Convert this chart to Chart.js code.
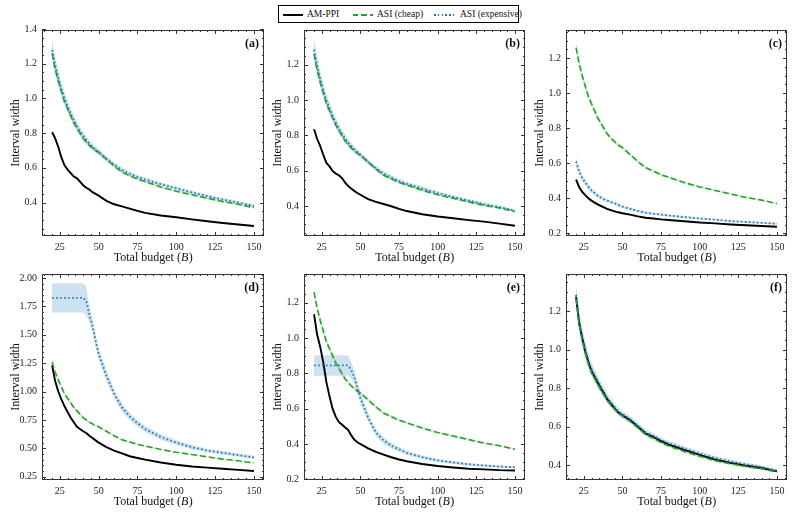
<!DOCTYPE html>
<html>
<head>
<meta charset="utf-8">
<script src="https://cdn.jsdelivr.net/npm/chart.js@4.4.0/dist/chart.umd.min.js"></script>
<style>
    body { margin: 0; background: #fff; width: 798px; height: 516px; position: relative; overflow: hidden; font-family: 'Liberation Serif', serif; }
    canvas { position: absolute; }
    #legend { position: absolute; left: 278px; top: 5px; width: 241px; height: 18px; border: 1px solid #000; box-sizing: border-box; font-size: 9.5px; color: #111; }
    #legend span { position: absolute; top: 2px; line-height: 12px; white-space: nowrap; }
    #legend i { position: absolute; top: 7.5px; width: 20px; height: 2px; }
</style>
</head>
<body>
<div id="legend">
    <i style="left:4px;background:#000"></i><span style="left:28px">AM-PPI</span>
    <i style="left:74px;background:repeating-linear-gradient(90deg,#2ca02c 0 5.5px,transparent 5.5px 8.5px)"></i><span style="left:98px">ASI (cheap)</span>
    <i style="left:155px;background:repeating-linear-gradient(90deg,#1f77b4 0 1.6px,transparent 1.6px 3.8px)"></i><span style="left:181px">ASI (expensive)</span>
</div>
<script>
// budgets B sampled on every curve
var budgets = [20, 22, 24, 26, 28, 30, 32, 34, 36, 38, 40, 42, 44, 46, 48, 50, 55, 60, 65, 70, 75, 80, 90, 100, 110, 120, 130, 140, 150];
var xTicks = [25, 50, 75, 100, 125, 150];
var yTicksA = [0.4, 0.6, 0.8, 1.0, 1.2, 1.4];
var yTicksB = [0.4, 0.6, 0.8, 1.0, 1.2];
var yTicksC = [0.2, 0.4, 0.6, 0.8, 1.0, 1.2];
var yTicksD = [0.25, 0.5, 0.75, 1.0, 1.25, 1.5, 1.75, 2.0];

// ASI (cheap) looks the same in panels a-e
var asiCheap = [1.26, 1.17, 1.10, 1.04, 0.98, 0.94, 0.90, 0.86, 0.83, 0.80, 0.77, 0.75, 0.73, 0.715, 0.70, 0.69, 0.65, 0.61, 0.575, 0.555, 0.535, 0.52, 0.49, 0.465, 0.445, 0.425, 0.405, 0.39, 0.37];

var amA = [0.805, 0.77, 0.72, 0.66, 0.615, 0.59, 0.57, 0.55, 0.54, 0.52, 0.50, 0.485, 0.475, 0.46, 0.45, 0.44, 0.41, 0.39, 0.378, 0.365, 0.352, 0.34, 0.325, 0.315, 0.303, 0.292, 0.282, 0.273, 0.265];
var expA = [1.28, 1.19, 1.12, 1.055, 1.0, 0.955, 0.91, 0.875, 0.84, 0.81, 0.785, 0.76, 0.74, 0.72, 0.705, 0.69, 0.652, 0.618, 0.588, 0.566, 0.547, 0.532, 0.506, 0.482, 0.458, 0.437, 0.417, 0.40, 0.38];

var amB = [0.835, 0.78, 0.74, 0.69, 0.645, 0.625, 0.60, 0.585, 0.575, 0.56, 0.535, 0.515, 0.50, 0.487, 0.475, 0.465, 0.44, 0.425, 0.413, 0.40, 0.385, 0.373, 0.355, 0.342, 0.332, 0.322, 0.313, 0.302, 0.29];
var expB = [1.285, 1.195, 1.12, 1.055, 1.0, 0.955, 0.91, 0.875, 0.84, 0.81, 0.785, 0.76, 0.74, 0.72, 0.705, 0.69, 0.65, 0.615, 0.585, 0.562, 0.542, 0.527, 0.50, 0.475, 0.452, 0.432, 0.412, 0.395, 0.375];

var amC = [0.507, 0.465, 0.437, 0.418, 0.40, 0.387, 0.375, 0.366, 0.357, 0.349, 0.34, 0.334, 0.328, 0.323, 0.319, 0.315, 0.307, 0.297, 0.289, 0.285, 0.28, 0.276, 0.269, 0.262, 0.257, 0.251, 0.246, 0.242, 0.238];
var expC = [0.61, 0.555, 0.515, 0.49, 0.465, 0.445, 0.43, 0.415, 0.405, 0.395, 0.388, 0.38, 0.375, 0.368, 0.36, 0.353, 0.34, 0.328, 0.318, 0.312, 0.307, 0.302, 0.293, 0.285, 0.278, 0.27, 0.265, 0.26, 0.255];

var amD = [1.23, 1.09, 1.00, 0.93, 0.87, 0.82, 0.77, 0.73, 0.69, 0.67, 0.65, 0.635, 0.61, 0.59, 0.57, 0.55, 0.51, 0.48, 0.455, 0.43, 0.415, 0.40, 0.375, 0.355, 0.34, 0.33, 0.32, 0.31, 0.30];
var expD = [1.825, 1.825, 1.825, 1.825, 1.825, 1.825, 1.825, 1.825, 1.825, 1.825, 1.825, 1.80, 1.68, 1.58, 1.45, 1.33, 1.14, 0.98, 0.86, 0.78, 0.72, 0.67, 0.60, 0.55, 0.51, 0.48, 0.46, 0.44, 0.42];

var amE = [1.135, 1.02, 0.95, 0.86, 0.75, 0.67, 0.60, 0.555, 0.525, 0.51, 0.495, 0.48, 0.45, 0.425, 0.41, 0.40, 0.375, 0.355, 0.34, 0.325, 0.312, 0.302, 0.287, 0.275, 0.267, 0.26, 0.256, 0.252, 0.25];
var expE = [0.845, 0.845, 0.845, 0.845, 0.845, 0.845, 0.845, 0.845, 0.845, 0.845, 0.845, 0.845, 0.82, 0.78, 0.72, 0.66, 0.55, 0.465, 0.42, 0.39, 0.37, 0.35, 0.325, 0.307, 0.295, 0.285, 0.278, 0.272, 0.268];

var amF = [1.275, 1.14, 1.06, 0.99, 0.935, 0.89, 0.86, 0.83, 0.80, 0.775, 0.745, 0.725, 0.705, 0.685, 0.67, 0.66, 0.635, 0.60, 0.565, 0.548, 0.526, 0.508, 0.48, 0.454, 0.43, 0.413, 0.398, 0.386, 0.369];
var cheapF = [1.265, 1.13, 1.05, 0.98, 0.925, 0.88, 0.85, 0.82, 0.79, 0.765, 0.738, 0.718, 0.70, 0.682, 0.668, 0.655, 0.628, 0.595, 0.56, 0.54, 0.518, 0.50, 0.472, 0.447, 0.424, 0.408, 0.394, 0.382, 0.366];
var expF = [1.285, 1.15, 1.07, 1.0, 0.945, 0.90, 0.868, 0.838, 0.808, 0.782, 0.752, 0.732, 0.712, 0.692, 0.676, 0.665, 0.64, 0.606, 0.572, 0.553, 0.532, 0.515, 0.488, 0.462, 0.438, 0.42, 0.405, 0.392, 0.372];

// half widths of the shaded bands
var spreadAm = [0.012, 0.011, 0.01, 0.01, 0.009, 0.009, 0.008, 0.008, 0.008, 0.007, 0.007, 0.007, 0.007, 0.006, 0.006, 0.006, 0.006, 0.005, 0.005, 0.005, 0.005, 0.005, 0.004, 0.004, 0.004, 0.004, 0.004, 0.004, 0.004];
var spreadCheap = [0.03, 0.025, 0.022, 0.02, 0.018, 0.017, 0.016, 0.015, 0.014, 0.013, 0.012, 0.012, 0.011, 0.011, 0.01, 0.01, 0.009, 0.009, 0.008, 0.008, 0.007, 0.007, 0.007, 0.006, 0.006, 0.006, 0.006, 0.005, 0.005];
var spreadExp = [0.06, 0.05, 0.045, 0.04, 0.036, 0.033, 0.03, 0.028, 0.026, 0.024, 0.022, 0.021, 0.02, 0.019, 0.018, 0.017, 0.016, 0.015, 0.014, 0.013, 0.012, 0.012, 0.011, 0.01, 0.01, 0.009, 0.009, 0.008, 0.008];
var spreadExpC = [0.025, 0.02, 0.018, 0.016, 0.015, 0.014, 0.013, 0.012, 0.011, 0.011, 0.01, 0.01, 0.009, 0.009, 0.009, 0.008, 0.008, 0.007, 0.007, 0.007, 0.006, 0.006, 0.006, 0.005, 0.005, 0.005, 0.005, 0.005, 0.005];
var spreadExpD = [0.128, 0.128, 0.128, 0.128, 0.128, 0.128, 0.128, 0.128, 0.128, 0.128, 0.128, 0.128, 0.07, 0.06, 0.055, 0.05, 0.045, 0.04, 0.035, 0.032, 0.03, 0.027, 0.024, 0.021, 0.019, 0.017, 0.016, 0.015, 0.014];
var spreadExpE = [0.058, 0.058, 0.058, 0.058, 0.058, 0.058, 0.058, 0.058, 0.058, 0.058, 0.058, 0.058, 0.045, 0.04, 0.035, 0.03, 0.025, 0.02, 0.018, 0.016, 0.014, 0.012, 0.01, 0.009, 0.008, 0.008, 0.007, 0.007, 0.006];

var FONT = "'Liberation Serif', 'DejaVu Serif', serif";
var AXW = 42, AXH = 32, PADT = 10, PADR = 10;

var panels = [
    { label: '(a)', box: [42, 29, 264, 236], yMin: 0.207, yMax: 1.395, yTicks: yTicksA, dec: 1, am: amA, cheap: asiCheap, exp: expA, expSpread: spreadExp },
    { label: '(b)', box: [304, 29, 525, 236], yMin: 0.232, yMax: 1.396, yTicks: yTicksB, dec: 1, am: amB, cheap: asiCheap, exp: expB, expSpread: spreadExp },
    { label: '(c)', box: [566, 29, 787, 236], yMin: 0.185, yMax: 1.361, yTicks: yTicksC, dec: 1, am: amC, cheap: asiCheap, exp: expC, expSpread: spreadExpC },
    { label: '(d)', box: [42, 273, 264, 480], yMin: 0.221, yMax: 2.035, yTicks: yTicksD, dec: 2, am: amD, cheap: asiCheap, exp: expD, expSpread: spreadExpD },
    { label: '(e)', box: [304, 273, 525, 480], yMin: 0.196, yMax: 1.363, yTicks: yTicksC, dec: 1, am: amE, cheap: asiCheap, exp: expE, expSpread: spreadExpE },
    { label: '(f)', box: [566, 273, 787, 480], yMin: 0.324, yMax: 1.393, yTicks: yTicksB, dec: 1, am: amF, cheap: cheapF, exp: expF, expSpread: spreadExp }
];

function pts(vals, spread, sign) {
    return budgets.map(function(b, i) {
        return { x: b, y: vals[i] + (spread ? sign * spread[i] : 0) };
    });
}

function lineSet(vals, color, width, dash) {
    return { data: pts(vals), borderColor: color, borderWidth: width, borderDash: dash, borderCapStyle: 'butt', pointRadius: 0, fill: false };
}

function bandSets(vals, spread, fillColor) {
    return [
        { data: pts(vals, spread, -1), borderWidth: 0, pointRadius: 0, fill: false },
        { data: pts(vals, spread, 1), borderWidth: 0, pointRadius: 0, fill: '-1', backgroundColor: fillColor }
    ];
}

function minorPositions(min, max, step, major) {
    var out = [];
    for (var k = Math.ceil(min / step - 1e-9); k * step <= max + 1e-9; k++) {
        var v = k * step;
        var r = v / major;
        if (Math.abs(r - Math.round(r)) < 1e-6) continue;
        out.push(v);
    }
    return out;
}

var panelDecor = {
    id: 'panelDecor',
    afterDraw: function(chart, args, opts) {
        var ctx = chart.ctx, a = chart.chartArea;
        var xs = chart.scales.x, ys = chart.scales.y;
        ctx.save();
        ctx.strokeStyle = '#333';
        ctx.lineWidth = 1;
        ctx.strokeRect(Math.round(a.left) + 0.5, Math.round(a.top) + 0.5, Math.round(a.right - a.left) - 1, Math.round(a.bottom - a.top) - 1);

        ctx.beginPath();
        function xTick(v, len) {
            var px = Math.round(xs.getPixelForValue(v)) + 0.5;
            ctx.moveTo(px, a.bottom); ctx.lineTo(px, a.bottom - len);
            ctx.moveTo(px, a.top); ctx.lineTo(px, a.top + len);
        }
        function yTick(v, len) {
            var py = Math.round(ys.getPixelForValue(v)) + 0.5;
            ctx.moveTo(a.left, py); ctx.lineTo(a.left + len, py);
            ctx.moveTo(a.right, py); ctx.lineTo(a.right - len, py);
        }
        xTicks.forEach(function(v) { xTick(v, 4); });
        minorPositions(xs.min, xs.max, 5, 25).forEach(function(v) { xTick(v, 2); });
        opts.yTicks.forEach(function(v) { yTick(v, 4); });
        var yMajor = opts.yTicks[1] - opts.yTicks[0];
        minorPositions(ys.min, ys.max, 0.05, yMajor).forEach(function(v) { yTick(v, 2); });
        ctx.stroke();

        ctx.fillStyle = '#111';
        ctx.font = 'bold 12px ' + FONT;
        ctx.textAlign = 'right';
        ctx.textBaseline = 'alphabetic';
        ctx.fillText(opts.label, a.right - 5, a.top + 17);

        ctx.font = '12px ' + FONT;
        ctx.textAlign = 'center';
        ctx.textBaseline = 'middle';
        ctx.save();
        ctx.translate(a.left - 26, (a.top + a.bottom) / 2);
        ctx.rotate(-Math.PI / 2);
        ctx.fillText('Interval width', 0, 0);
        ctx.restore();

        var p1 = 'Total budget (', p2 = 'B', p3 = ')';
        ctx.font = '12px ' + FONT;
        var w1 = ctx.measureText(p1).width, w3 = ctx.measureText(p3).width;
        ctx.font = 'italic 12px ' + FONT;
        var w2 = ctx.measureText(p2).width;
        var x0 = (a.left + a.right) / 2 - (w1 + w2 + w3) / 2, ty = a.bottom + 22;
        ctx.textAlign = 'left';
        ctx.font = '12px ' + FONT;
        ctx.fillText(p1, x0, ty);
        ctx.font = 'italic 12px ' + FONT;
        ctx.fillText(p2, x0 + w1, ty);
        ctx.font = '12px ' + FONT;
        ctx.fillText(p3, x0 + w1 + w2 + 0.5, ty);
        ctx.restore();
    }
};

panels.forEach(function(p) {
    var L = p.box[0], T = p.box[1], R = p.box[2], B = p.box[3];
    var cv = document.createElement('canvas');
    var w = (R - L) + AXW + PADR, h = (B - T) + PADT + AXH;
    cv.width = w; cv.height = h;
    cv.style.left = (L - AXW) + 'px';
    cv.style.top = (T - PADT) + 'px';
    cv.style.width = w + 'px';
    cv.style.height = h + 'px';
    document.body.appendChild(cv);

    var datasets = [
        lineSet(p.exp, '#1f77b4', 1.8, [1.6, 2.4]),
        lineSet(p.cheap, '#2ca02c', 1.6, [6, 3]),
        lineSet(p.am, '#000000', 1.9, [])
    ].concat(
        bandSets(p.exp, p.expSpread, 'rgba(31,119,180,0.22)'),
        bandSets(p.cheap, spreadCheap, 'rgba(44,160,44,0.2)'),
        bandSets(p.am, spreadAm, 'rgba(0,0,0,0.15)')
    );

    new Chart(cv, {
        type: 'line',
        data: { datasets: datasets },
        options: {
            responsive: false,
            animation: false,
            devicePixelRatio: 1,
            layout: { padding: { left: 0, top: PADT, right: PADR, bottom: 0 } },
            elements: { line: { tension: 0 }, point: { radius: 0 } },
            plugins: {
                legend: { display: false },
                tooltip: { enabled: false },
                panelDecor: { label: p.label, yTicks: p.yTicks }
            },
            scales: {
                x: {
                    type: 'linear', min: 13.5, max: 156.5,
                    grid: { display: false, drawTicks: false },
                    border: { display: false },
                    ticks: { padding: 5, autoSkip: false, maxRotation: 0, color: '#222', font: { family: FONT, size: 10 } },
                    afterBuildTicks: function(s) { s.ticks = xTicks.map(function(v) { return { value: v }; }); },
                    afterFit: function(s) { s.height = AXH; }
                },
                y: {
                    type: 'linear', min: p.yMin, max: p.yMax,
                    grid: { display: false, drawTicks: false },
                    border: { display: false },
                    ticks: {
                        padding: 5, autoSkip: false, color: '#222', font: { family: FONT, size: 10 },
                        callback: function(v) { return Number(v).toFixed(p.dec); }
                    },
                    afterBuildTicks: function(s) { s.ticks = p.yTicks.map(function(v) { return { value: v }; }); },
                    afterFit: function(s) { s.width = AXW; }
                }
            }
        },
        plugins: [panelDecor]
    });
});
</script>
</body>
</html>
